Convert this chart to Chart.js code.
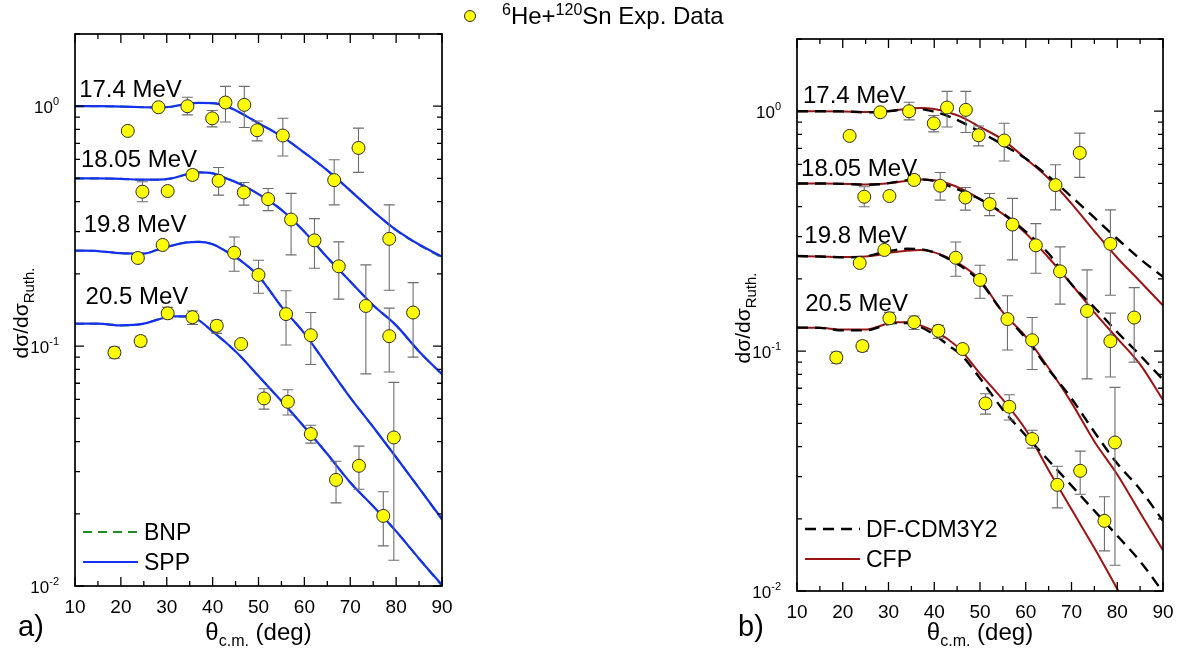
<!DOCTYPE html>
<html>
<head>
<meta charset="utf-8">
<script src="https://cdn.jsdelivr.net/npm/chart.js@4.4.0/dist/chart.umd.min.js"></script>
<style>
  html, body { margin: 0; padding: 0; background: #fff; }
  #wrap { position: relative; width: 1190px; height: 659px; }
  #wrap canvas { position: absolute; left: 0; top: 0; }
</style>
</head>
<body>
<div id="wrap">
  <canvas id="chartA" width="1190" height="659"></canvas>
  <canvas id="chartB" width="1190" height="659"></canvas>
</div>
<script>
// 6He + 120Sn elastic scattering, ratio to Rutherford, four beam energies
const energies = ['17.4 MeV', '18.05 MeV', '19.8 MeV', '20.5 MeV'];

// measured points (deg, ratio, error bar ends)
const thetaExp174 = [21.5, 28.2, 34.5, 39.9, 42.8, 46.9, 49.7, 55.3, 66.5, 71.8, 78.5];
const exp174 = [0.789, 0.99, 1.0, 0.89, 1.036, 1.013, 0.794, 0.755, 0.492, 0.67, 0.28];
const lo174 = [null, null, 0.92, 0.82, 0.86, 0.815, 0.717, 0.62, 0.388, 0.53, 0.171];
const hi174 = [null, null, 1.09, 0.96, 1.21, 1.21, 0.868, 0.891, 0.598, 0.81, 0.388];

const thetaExp1805 = [24.7, 30.2, 35.6, 41.3, 46.8, 52.1, 57.1, 62.2, 67.5, 73.4, 78.5, 83.7];
const exp1805 = [0.44, 0.443, 0.517, 0.489, 0.437, 0.41, 0.337, 0.276, 0.215, 0.147, 0.11, 0.138];
const lo1805 = [0.40, null, 0.495, 0.426, 0.387, 0.367, 0.24, 0.211, 0.157, 0.0766, 0.078, 0.090];
const hi1805 = [0.484, null, 0.54, 0.555, 0.481, 0.454, 0.433, 0.34, 0.272, 0.218, 0.144, 0.184];

const thetaExp198 = [23.7, 29.1, 44.7, 50.0, 56.0, 61.4, 79.5];
const exp198 = [0.233, 0.264, 0.245, 0.198, 0.136, 0.111, 0.0416];
const lo198 = [null, null, 0.205, 0.166, 0.101, 0.0838, 0.0128];
const hi198 = [null, null, 0.285, 0.228, 0.17, 0.138, 0.0706];

const thetaExp205 = [18.6, 24.3, 30.2, 35.6, 40.9, 46.2, 51.2, 56.4, 61.4, 66.9, 71.9, 77.2];
const exp205 = [0.094, 0.105, 0.137, 0.132, 0.1215, 0.102, 0.0605, 0.0586, 0.043, 0.0277, 0.0317, 0.0196];
const lo205 = [0.089, 0.1, 0.13, 0.123, 0.113, null, 0.0546, 0.0516, 0.0394, 0.0222, 0.0253, 0.0147];
const hi205 = [0.099, 0.11, 0.145, 0.14, 0.128, null, 0.0664, 0.0658, 0.0468, 0.0331, 0.0383, 0.0247];

// model curves, sampled on one angle grid
const thetaFit = [10, 15, 20, 25, 28, 31, 34, 37, 40, 43, 46, 50, 55, 60, 65, 70, 75, 80, 85, 90];

const spp174  = [1.0, 1.0, 0.997, 0.99, 0.988, 0.995, 1.02, 1.032, 1.03, 1.0, 0.94, 0.85, 0.75, 0.64, 0.54, 0.445, 0.365, 0.305, 0.265, 0.236];
const spp1805 = [0.5, 0.5, 0.498, 0.494, 0.494, 0.5, 0.518, 0.53, 0.525, 0.5, 0.474, 0.43, 0.37, 0.3, 0.234, 0.186, 0.148, 0.122, 0.095, 0.0764];
const spp198  = [0.25, 0.249, 0.244, 0.243, 0.252, 0.262, 0.27, 0.272, 0.266, 0.248, 0.228, 0.196, 0.146, 0.113, 0.083, 0.061, 0.046, 0.0344, 0.0256, 0.019];
const spp205  = [0.124, 0.124, 0.122, 0.124, 0.129, 0.133, 0.133, 0.128, 0.115, 0.103, 0.091, 0.075, 0.059, 0.046, 0.0355, 0.027, 0.0215, 0.0169, 0.013, 0.0101];

const bnp174  = [1.0, 1.0, 0.997, 0.99, 0.988, 0.995, 1.02, 1.032, 1.03, 1.0, 0.94, 0.85, 0.75, 0.64, 0.54, 0.445, 0.365, 0.304, 0.264, 0.234];
const bnp1805 = [0.5, 0.5, 0.498, 0.494, 0.494, 0.5, 0.518, 0.53, 0.525, 0.5, 0.474, 0.43, 0.37, 0.3, 0.234, 0.186, 0.148, 0.122, 0.095, 0.0762];
const bnp198  = [0.25, 0.249, 0.244, 0.243, 0.252, 0.262, 0.27, 0.272, 0.266, 0.248, 0.228, 0.196, 0.146, 0.113, 0.083, 0.061, 0.046, 0.0344, 0.0256, 0.0189];
const bnp205  = [0.124, 0.124, 0.122, 0.124, 0.129, 0.133, 0.133, 0.128, 0.115, 0.103, 0.091, 0.075, 0.059, 0.046, 0.0355, 0.027, 0.0215, 0.0169, 0.013, 0.0100];

const cfp174  = [1.0, 1.0, 0.998, 0.992, 0.993, 1.005, 1.025, 1.032, 1.022, 0.99, 0.945, 0.86, 0.76, 0.634, 0.524, 0.412, 0.316, 0.245, 0.195, 0.155];
const cfp1805 = [0.5, 0.5, 0.499, 0.495, 0.497, 0.503, 0.513, 0.519, 0.515, 0.5, 0.474, 0.43, 0.373, 0.31, 0.245, 0.19, 0.145, 0.113, 0.088, 0.0625];
const cfp198  = [0.249, 0.248, 0.247, 0.248, 0.252, 0.258, 0.262, 0.264, 0.258, 0.245, 0.228, 0.198, 0.145, 0.115, 0.085, 0.061, 0.042, 0.0306, 0.0212, 0.0148];
const cfp205  = [0.1253, 0.125, 0.123, 0.123, 0.127, 0.132, 0.132, 0.128, 0.121, 0.112, 0.1, 0.0805, 0.0627, 0.047, 0.0319, 0.0219, 0.0151, 0.0102, 0.0069, 0.0047];

const df174  = [1.0, 1.0, 0.998, 0.99, 0.992, 1.005, 1.022, 1.02, 0.995, 0.955, 0.9, 0.82, 0.725, 0.635, 0.535, 0.44, 0.36, 0.294, 0.242, 0.204];
const df1805 = [0.5, 0.5, 0.498, 0.494, 0.496, 0.505, 0.516, 0.52, 0.512, 0.49, 0.465, 0.43, 0.375, 0.315, 0.255, 0.19, 0.152, 0.12, 0.096, 0.076];
const df198  = [0.249, 0.248, 0.246, 0.248, 0.256, 0.263, 0.267, 0.266, 0.258, 0.243, 0.225, 0.195, 0.145, 0.113, 0.084, 0.0635, 0.046, 0.034, 0.0265, 0.0196];
const df205  = [0.1253, 0.125, 0.122, 0.122, 0.126, 0.131, 0.131, 0.126, 0.117, 0.106, 0.096, 0.077, 0.057, 0.0445, 0.035, 0.0275, 0.0216, 0.017, 0.0133, 0.0099];

const FONT = '"Liberation Sans", Arial, sans-serif';

function curve(values, color, width, dash, order) {
  return {
    data: thetaFit.map((t, i) => ({ x: t, y: values[i] })),
    showLine: true,
    borderColor: color,
    borderWidth: width,
    borderDash: dash || [],
    pointRadius: 0,
    pointHoverRadius: 0,
    cubicInterpolationMode: 'monotone',
    fill: false,
    order: order
  };
}

function expSet(theta, vals, lo, hi) {
  return {
    data: theta.map((t, i) => ({ x: t, y: vals[i] })),
    errLo: lo,
    errHi: hi,
    pointRadius: 6.5,
    pointHoverRadius: 6.5,
    pointBackgroundColor: '#ffff00',
    pointBorderColor: '#2b2b2b',
    pointBorderWidth: 1,
    order: 0
  };
}

function expData() {
  return [
    expSet(thetaExp174, exp174, lo174, hi174),
    expSet(thetaExp1805, exp1805, lo1805, hi1805),
    expSet(thetaExp198, exp198, lo198, hi198),
    expSet(thetaExp205, exp205, lo205, hi205)
  ];
}

// draw a run of text pieces: [text, size, rise]
function drawRun(ctx, x, y, parts) {
  let cx = x;
  for (const [txt, size, rise] of parts) {
    ctx.font = size + 'px ' + FONT;
    ctx.fillText(txt, cx, y + rise);
    cx += ctx.measureText(txt).width;
  }
  return cx - x;
}
function runWidth(ctx, parts) {
  let w = 0;
  for (const [txt, size] of parts) {
    ctx.font = size + 'px ' + FONT;
    w += ctx.measureText(txt).width;
  }
  return w;
}

// vertical error bars, drawn just before their points
const errorBars = {
  id: 'errorBars',
  beforeDatasetDraw(chart, args) {
    const ds = chart.data.datasets[args.index];
    if (!ds.errLo) return;
    const ctx = chart.ctx, ys = chart.scales.y;
    const meta = chart.getDatasetMeta(args.index);
    ctx.save();
    ctx.strokeStyle = '#6e6e6e';
    ctx.lineWidth = 1.1;
    ctx.beginPath();
    meta.data.forEach((pt, i) => {
      if (ds.errLo[i] == null) return;
      const y1 = ys.getPixelForValue(ds.errLo[i]);
      const y2 = ys.getPixelForValue(ds.errHi[i]);
      ctx.moveTo(pt.x, y1); ctx.lineTo(pt.x, y2);
      ctx.moveTo(pt.x - 5.5, y1); ctx.lineTo(pt.x + 5.5, y1);
      ctx.moveTo(pt.x - 5.5, y2); ctx.lineTo(pt.x + 5.5, y2);
    });
    ctx.stroke();
    ctx.restore();
  }
};

// frame, inward ticks, log labels, titles and annotations
const frame = {
  id: 'frame',
  afterDraw(chart, args, o) {
    const ctx = chart.ctx, a = chart.chartArea;
    const xs = chart.scales.x, ys = chart.scales.y;
    ctx.save();
    ctx.fillStyle = '#000';
    ctx.strokeStyle = '#000';

    // ticks
    ctx.lineWidth = 1.3;
    ctx.beginPath();
    for (let t = xs.min; t <= xs.max; t += 5) {
      const px = xs.getPixelForValue(t);
      const len = t % 10 === 0 ? 9 : 5;
      ctx.moveTo(px, a.bottom); ctx.lineTo(px, a.bottom - len);
      ctx.moveTo(px, a.top); ctx.lineTo(px, a.top + len);
    }
    for (const dec of [0.01, 0.1, 1]) {
      for (let m = 1; m <= 9; m++) {
        const v = dec * m;
        if (v > ys.max + 1e-9) break;
        const py = ys.getPixelForValue(v);
        const len = m === 1 ? 9 : 5;
        ctx.moveTo(a.left, py); ctx.lineTo(a.left + len, py);
        ctx.moveTo(a.right, py); ctx.lineTo(a.right - len, py);
      }
    }
    ctx.stroke();

    // box
    ctx.lineWidth = 1.7;
    ctx.strokeRect(a.left, a.top, a.right - a.left, a.bottom - a.top);

    // decade labels 10^n
    ctx.textAlign = 'left';
    ctx.textBaseline = 'alphabetic';
    [[1, '0'], [0.1, '-1'], [0.01, '-2']].forEach(([v, e]) => {
      const parts = [['10', 17, 0], [e, 11, -8]];
      const w = runWidth(ctx, parts);
      drawRun(ctx, a.left - 16 - w, ys.getPixelForValue(v) + 7, parts);
    });

    // x title
    const xParts = [['\u03B8', 24, 0], ['c.m.', 16, 6], [' (deg)', 24, 0]];
    const xw = runWidth(ctx, xParts);
    drawRun(ctx, (a.left + a.right) / 2 - xw / 2, 640, xParts);

    // y title, rotated
    const yParts = [['d\u03C3/d\u03C3', 21, 0], ['Ruth.', 15, 6]];
    const yw = runWidth(ctx, yParts);
    ctx.save();
    ctx.translate(a.left - o.yTitleOffset, (a.top + a.bottom) / 2 + 3);
    ctx.rotate(-Math.PI / 2);
    drawRun(ctx, -yw / 2, 0, yParts);
    ctx.restore();

    // panel letter
    ctx.font = '29px ' + FONT;
    ctx.fillText(o.letter, o.letterX, 636);

    // energy labels
    ctx.font = '24px ' + FONT;
    energies.forEach((txt, i) => {
      const [ang, val] = o.labelAt[i];
      ctx.fillText(txt, xs.getPixelForValue(ang), ys.getPixelForValue(val));
    });

    // inner legend
    o.legend.forEach((item, i) => {
      const ly = o.legendY + i * 30;
      ctx.save();
      ctx.strokeStyle = item.color;
      ctx.lineWidth = item.width;
      ctx.setLineDash(item.dash);
      ctx.beginPath();
      ctx.moveTo(a.left + 8, ly); ctx.lineTo(a.left + 63, ly);
      ctx.stroke();
      ctx.restore();
      ctx.font = '23px ' + FONT;
      ctx.fillText(item.text, a.left + 69, ly + 8);
    });

    // shared header for the measured points
    if (o.header) {
      ctx.beginPath();
      ctx.arc(470, 16, 5.5, 0, Math.PI * 2);
      ctx.fillStyle = '#ffff00';
      ctx.fill();
      ctx.lineWidth = 1;
      ctx.strokeStyle = '#2b2b2b';
      ctx.stroke();
      ctx.fillStyle = '#000';
      drawRun(ctx, 502, 24, [['6', 16, -9], ['He+', 24, 0], ['120', 16, -9], ['Sn Exp. Data', 24, 0]]);
    }
    ctx.restore();
  }
};

function makePanel(id, area, curves, opts) {
  return new Chart(document.getElementById(id), {
    type: 'scatter',
    data: { datasets: curves.concat(expData()) },
    plugins: [errorBars, frame],
    options: {
      responsive: false,
      animation: false,
      devicePixelRatio: 1,
      events: [],
      layout: { padding: { left: 0, top: area.top, right: 1190 - area.right, bottom: 0 } },
      scales: {
        x: {
          type: 'linear', min: 10, max: 90,
          grid: { display: false, drawTicks: false },
          border: { display: false },
          ticks: { stepSize: 10, color: '#000', font: { family: FONT, size: 19 }, padding: 10, maxRotation: 0, autoSkip: false },
          afterFit: s => { s.height = 659 - area.bottom; }
        },
        y: {
          type: 'logarithmic', min: 0.01, max: 2,
          grid: { display: false, drawTicks: false },
          border: { display: false },
          ticks: { display: false },
          afterFit: s => { s.width = area.left; }
        }
      },
      plugins: {
        legend: { display: false },
        tooltip: { enabled: false },
        frame: opts
      }
    }
  });
}

// a) folding-model curves
makePanel('chartA', { left: 75, top: 34, right: 442, bottom: 586 }, [
  curve(bnp174, '#1e8c1e', 2, [9, 6], 2),
  curve(bnp1805, '#1e8c1e', 2, [9, 6], 2),
  curve(bnp198, '#1e8c1e', 2, [9, 6], 2),
  curve(bnp205, '#1e8c1e', 2, [9, 6], 2),
  curve(spp174, '#1530f0', 2.2, null, 1),
  curve(spp1805, '#1530f0', 2.2, null, 1),
  curve(spp198, '#1530f0', 2.2, null, 1),
  curve(spp205, '#1530f0', 2.2, null, 1)
], {
  letter: 'a)', letterX: 18, yTitleOffset: 47,
  labelAt: [[10.9, 1.09], [11.3, 0.557], [11.9, 0.298], [12.3, 0.15]],
  legendY: 532,
  legend: [
    { text: 'BNP', color: '#1e8c1e', width: 2, dash: [9, 6] },
    { text: 'SPP', color: '#1530f0', width: 2.2, dash: [] }
  ],
  header: false
});

// b) double-folding and cluster-folding curves
makePanel('chartB', { left: 797, top: 39, right: 1163, bottom: 591 }, [
  curve(df174, '#000', 2.4, [11, 7], 1),
  curve(df1805, '#000', 2.4, [11, 7], 1),
  curve(df198, '#000', 2.4, [11, 7], 1),
  curve(df205, '#000', 2.4, [11, 7], 1),
  curve(cfp174, '#9a1414', 2, null, 2),
  curve(cfp1805, '#9a1414', 2, null, 2),
  curve(cfp198, '#9a1414', 2, null, 2),
  curve(cfp205, '#9a1414', 2, null, 2)
], {
  letter: 'b)', letterX: 738, yTitleOffset: 47,
  labelAt: [[11.3, 1.08], [10.9, 0.536], [11.6, 0.282], [11.8, 0.147]],
  legendY: 529,
  legend: [
    { text: 'DF-CDM3Y2', color: '#000', width: 2.4, dash: [11, 7] },
    { text: 'CFP', color: '#9a1414', width: 2, dash: [] }
  ],
  header: true
});
</script>
</body>
</html>
